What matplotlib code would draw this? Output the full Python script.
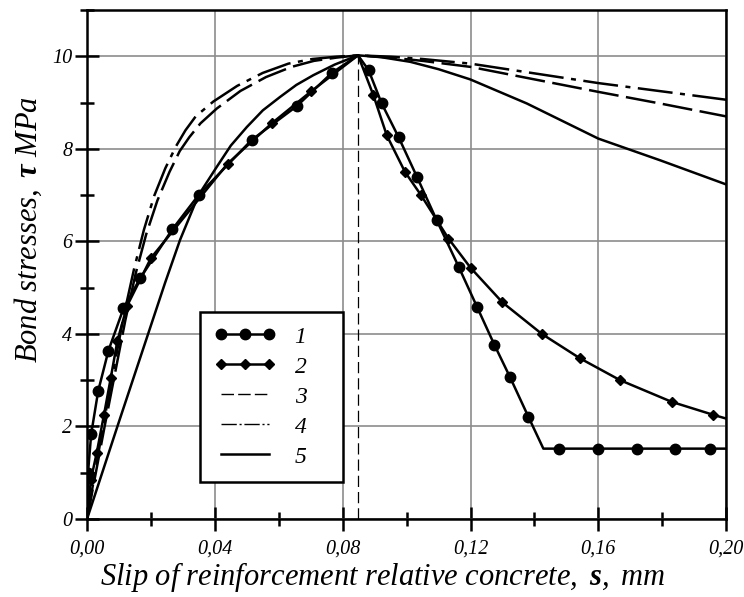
# -*- coding: utf-8 -*-
import matplotlib
matplotlib.use('Agg')
import matplotlib.pyplot as plt
from matplotlib.lines import Line2D
from matplotlib.ticker import MultipleLocator, FuncFormatter

# кривая 1 (кружки): вершины ломаной и индексы маркеров
s1 = [0, 0.0003, 0.0013, 0.0035, 0.0067, 0.0114, 0.0166, 0.0267, 0.0349, 0.0515,
      0.0656, 0.0766, 0.0848, 0.0881, 0.0922, 0.0975, 0.1032, 0.1094, 0.1163, 0.122,
      0.1275, 0.1324, 0.1381, 0.1428, 0.1478, 0.160, 0.172, 0.184, 0.1948, 0.2]
t1 = [0, 1.0, 1.84, 2.77, 3.64, 4.55, 5.2, 6.26, 7.0, 8.19,
      8.92, 9.64, 10.02, 9.70, 8.98, 8.25, 7.4, 6.46, 5.45, 4.59,
      3.76, 3.06, 2.21, 1.52, 1.52, 1.52, 1.52, 1.52, 1.52, 1.52]
marks1 = [i for i in range(len(s1)) if i not in (0, 12, 23, 29)]

# кривая 2 (ромбы)
s2 = [0, 0.0012, 0.003, 0.0053, 0.0074, 0.0095, 0.0125, 0.020, 0.044, 0.0578,
      0.0701, 0.0848, 0.0896, 0.0938, 0.0995, 0.1045, 0.1131, 0.120, 0.130, 0.1423,
      0.1543, 0.1668, 0.183, 0.196, 0.2]
t2 = [0, 0.85, 1.42, 2.25, 3.04, 3.85, 4.6, 5.64, 7.68, 8.55,
      9.24, 10.02, 9.16, 8.29, 7.5, 7.0, 6.06, 5.43, 4.68, 4.0,
      3.47, 3.0, 2.53, 2.25, 2.17]
marks2 = [i for i in range(len(s2)) if i not in (0, 11, 24)]

# кривая 3 (штрих)
s3 = [0, 0.0055, 0.012, 0.0152, 0.0185, 0.022, 0.0258, 0.029, 0.032, 0.0355, 0.0406,
      0.048, 0.056, 0.064, 0.071, 0.078, 0.0848, 0.095, 0.105, 0.12, 0.14, 0.16,
      0.18, 0.2]
t3 = [0, 2.0, 4.3, 5.3, 6.15, 6.88, 7.5, 7.95, 8.25, 8.55, 8.87,
      9.25, 9.55, 9.77, 9.9, 9.97, 10.02, 9.97, 9.9, 9.77, 9.5, 9.23,
      8.97, 8.7]

# кривая 4 (штрих-пунктир)
s4 = [0, 0.005, 0.0115, 0.0147, 0.0178, 0.021, 0.0245, 0.0278, 0.0308, 0.034, 0.0395,
      0.047, 0.055, 0.063, 0.0705, 0.078, 0.0848, 0.095, 0.105, 0.12, 0.14, 0.16,
      0.18, 0.2]
t4 = [0, 2.0, 4.4, 5.4, 6.25, 6.98, 7.58, 8.05, 8.4, 8.7, 9.02,
      9.36, 9.64, 9.84, 9.94, 9.99, 10.02, 9.99, 9.94, 9.84, 9.63, 9.42,
      9.24, 9.06]

# кривая 5 (сплошная)
s5 = [0, 0.0095, 0.0244, 0.0291, 0.0349, 0.0406, 0.045, 0.050, 0.055, 0.0604, 0.0655,
      0.0708, 0.0775, 0.0848, 0.092, 0.1011, 0.11, 0.1199, 0.1376, 0.16, 0.1794, 0.2]
t5 = [0, 2.0, 5.1, 6.03, 7.0, 7.61, 8.07, 8.47, 8.83, 9.12, 9.38,
      9.59, 9.82, 10.02, 9.98, 9.88, 9.72, 9.5, 8.98, 8.22, 7.75, 7.23]

peak_s, peak_tau = 0.0848, 10.0
legend_labels = ['1', '2', '3', '4', '5']

plt.rcParams['font.family'] = ['Liberation Serif', 'DejaVu Serif']
plt.rcParams['font.style'] = 'italic'
plt.rcParams['mathtext.fontset'] = 'custom'
plt.rcParams['mathtext.it'] = 'Liberation Serif:italic'
plt.rcParams['mathtext.bf'] = 'Liberation Serif:bold'
plt.rcParams['mathtext.rm'] = 'Liberation Serif'

fig = plt.figure(figsize=(7.44, 5.97), dpi=100)
ax = fig.add_axes([0.117, 0.1307, 0.859, 0.8526])

lw = 1.8
ax.plot([peak_s, peak_s], [0, peak_tau], color='k', lw=0.9, dashes=(9, 4))
ax.plot(s5, t5, color='k', lw=lw)
ax.plot(s3, t3, color='k', lw=lw, dashes=(12, 3))
ax.plot(s4, t4, color='k', lw=lw, dashes=(14, 3, 2, 3))
ax.plot(s2, t2, color='k', lw=lw, marker='D', ms=5.5, markevery=marks2)
ax.plot(s1, t1, color='k', lw=lw, marker='o', ms=7.5, markevery=marks1)

ax.set_xlim(0, 0.2)
ax.set_ylim(0, 11)
ax.xaxis.set_major_locator(MultipleLocator(0.04))
ax.xaxis.set_minor_locator(MultipleLocator(0.02))
ax.yaxis.set_major_locator(MultipleLocator(2))
ax.yaxis.set_minor_locator(MultipleLocator(1))
ax.xaxis.set_major_formatter(FuncFormatter(lambda v, p: '{:.2f}'.format(v).replace('.', ',')))
ax.yaxis.set_major_formatter(FuncFormatter(lambda v, p: '{:.0f}'.format(v) if v <= 10 else ''))

ax.grid(True, which='major', color='#8c8c8c', lw=1.2)
ax.set_axisbelow(True)
for sp in ax.spines.values():
    sp.set_linewidth(1.8)
ax.tick_params(which='major', direction='inout', length=17, width=1.8, labelsize=14.5,
               top=False, right=False)
ax.tick_params(which='minor', direction='inout', length=10, width=1.8,
               top=False, right=False)
ax.tick_params(axis='x', which='major', pad=6)
ax.tick_params(axis='y', which='major', pad=2)

ax.set_xlabel(r'$\mathit{Slip\ of\ reinforcement\ relative\ concrete,\ }\mathbf{s}\mathit{,\ mm}$',
              fontsize=22)
ax.xaxis.set_label_coords(0.462, -0.08)
ax.set_ylabel(r'$\mathit{Bond\ stresses,\ }\mathbf{\tau}\mathit{\ MPa}$', fontsize=22)
ax.yaxis.set_label_coords(-0.068, 0.568)

# легенда
handles = [
    Line2D([], [], color='k', lw=lw, marker='o', ms=7.5),
    Line2D([], [], color='k', lw=lw, marker='D', ms=5.5),
    Line2D([], [], color='k', lw=1.0, dashes=(9, 3)),
    Line2D([], [], color='k', lw=1.0, dashes=(11, 2, 1.5, 2)),
    Line2D([], [], color='k', lw=lw),
]
leg = ax.legend(handles, legend_labels, loc='upper left',
                bbox_to_anchor=(0.177, 0.08, 0.223, 0.327), mode='expand',
                borderaxespad=0, numpoints=3, handlelength=2.6, labelspacing=0.36,
                handletextpad=0.8, borderpad=0.6, fontsize=17, fancybox=False,
                framealpha=1, edgecolor='k')
leg.get_frame().set_linewidth(1.8)

fig.savefig('out.png', dpi=100)
